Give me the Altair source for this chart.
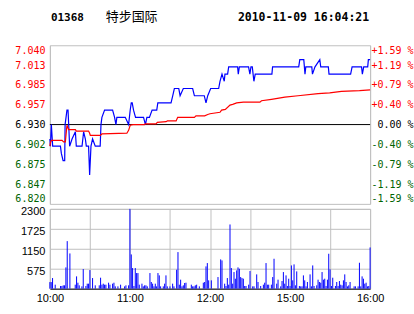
import json
import altair as alt
import pandas as pd

PREV_CLOSE = 6.93

# Price (blue) breakpoints: minutes of trading since 10:00, price
price_t = [0, 0.4, 1.1, 2.1, 7.9, 8.6, 9.9, 11.1, 11.4, 12.1, 12.8, 13.6, 14.1, 14.8, 16.6,
           19.1, 19.8, 24.1, 25.3, 26.6, 27.3, 29.0, 29.8, 30.8, 32.0, 34.0, 37.7, 38.3, 39.0,
           41.0, 47.0, 48.5, 49.5, 50.2, 56.5, 59.0, 60.2, 61.0, 61.7, 62.7, 64.2, 70.2, 71.6,
           72.7, 74.6, 76.6, 80.1, 80.9, 90.8, 92.1, 93.3, 96.6, 97.6, 100, 107, 108.3, 115.7,
           117, 118.3, 120.5, 126.5, 127.5, 129, 130.7, 131.2, 133.2, 134, 140.7, 141.2, 142,
           148.9, 149.9, 150.7, 151.7, 152.9, 153.9, 166.4, 166.9, 186.5, 187.3, 190.3, 191.2,
           191.8, 196.3, 196.8, 198.7, 202.3, 203, 208.7, 209.2, 225.4, 226.5, 233.6, 234.2,
           235.2, 238.2, 238.7, 240]
price_v = [6.91, 6.90, 6.93, 6.90, 6.90, 6.89, 6.88, 6.88, 6.93, 6.94, 6.95, 6.95, 6.93, 6.90, 6.91,
           6.92, 6.90, 6.90, 6.92, 6.91, 6.90, 6.90, 6.86, 6.90, 6.91, 6.90, 6.90, 6.93, 6.94,
           6.95, 6.95, 6.94, 6.93, 6.94, 6.94, 6.93, 6.95, 6.96, 6.96, 6.95, 6.94, 6.94, 6.93,
           6.94, 6.94, 6.95, 6.95, 6.96, 6.96, 6.97, 6.98, 6.98, 6.97, 6.98, 6.98, 6.97, 6.97,
           6.96, 6.97, 6.98, 6.98, 6.99, 7.00, 6.99, 7.00, 7.00, 7.01, 7.01, 7.00, 7.01,
           7.01, 7.00, 7.01, 7.01, 6.99, 7.00, 7.00, 7.01, 7.01, 7.02, 7.02, 7.00,
           7.01, 7.01, 7.00, 7.01, 7.02, 7.01, 7.01, 7.00, 7.00, 7.01, 7.01, 7.00,
           7.01, 7.01, 7.02, 7.02]

# Average price (red)
avg_t = [0, 0.4, 1.1, 9.1, 10.3, 11.6, 12.8, 14.1, 19.1, 19.8, 29.0, 29.8, 30.3, 37.8, 39.0,
         57.7, 59.0, 60.2, 62.3, 70.9, 71.5, 79.6, 80.5, 87.1, 88.0, 94.6, 95.8, 108.3, 109.5,
         116.0, 118.3, 120.0, 127.5, 128.7, 131.5, 135.0, 137.0, 140.0, 145.0, 157.4, 158.6,
         166.1, 176.1, 186.0, 201.0, 209.7, 218.5, 232.1, 240.0]
avg_v = [6.900, 6.905, 6.908, 6.908, 6.906, 6.906, 6.929, 6.923, 6.923, 6.921, 6.921, 6.918,
         6.915, 6.915, 6.917, 6.918, 6.922, 6.929, 6.930, 6.930, 6.931, 6.931, 6.933, 6.934,
         6.935, 6.935, 6.940, 6.940, 6.942, 6.942, 6.944, 6.945, 6.947, 6.950, 6.951, 6.957,
         6.958, 6.960, 6.961, 6.961, 6.963, 6.965, 6.968, 6.970, 6.973, 6.974, 6.976, 6.977,
         6.978]

# Volume per minute
vol_t = [0, 1, 2, 4, 8, 9, 10, 11, 12, 13, 15, 19, 20, 21, 22, 24, 25, 27, 28, 29, 30, 32, 34,
         37, 38, 39, 40, 41, 42, 44, 45, 47, 48, 49, 51, 53, 56, 57, 59, 60, 61, 62, 63, 64, 65,
         66, 67, 69, 70, 71, 72, 73, 75, 76, 77, 78, 79, 80, 81, 82, 83, 85, 86, 87, 88, 90, 92,
         93, 95, 96, 97, 98, 99, 100, 101, 102, 106, 107, 108, 109, 110, 112, 115, 116, 117,
         118, 119, 121, 126, 128, 129, 131, 132, 133, 134, 135, 136, 137, 138, 139, 140, 141,
         142, 143, 144, 145, 146, 147, 149, 150, 152, 153, 155, 156, 158, 160, 161, 162, 163,
         164, 166, 167, 168, 170, 171, 173, 174, 175, 176, 177, 178, 179, 180, 181, 182, 183,
         184, 185, 187, 188, 189, 190, 191, 192, 193, 195, 196, 197, 198, 200, 201, 202, 203,
         204, 205, 206, 207, 208, 209, 210, 211, 212, 214, 215, 216, 217, 218, 219, 220, 221,
         222, 223, 224, 225, 228, 229, 231, 232, 233, 234, 235, 236, 237, 238, 239, 240]
vol_v = [190, 190, 306, 115, 77, 77, 96, 96, 613, 1370, 1015, 115, 354, 172, 96, 67, 565, 77,
         144, 144, 536, 306, 96, 96, 316, 115, 144, 115, 115, 172, 115, 144, 172, 67, 67, 115,
         67, 96, 96, 2300, 987, 594, 77, 594, 450, 450, 115, 144, 67, 96, 96, 67, 450, 192, 144,
         67, 144, 67, 450, 383, 67, 67, 144, 383, 67, 67, 144, 67, 546, 1054, 115, 259, 67, 96,
         163, 172, 115, 67, 67, 96, 115, 67, 172, 192, 642, 738, 240, 240, 335, 843, 814, 144,
         77, 306, 115, 1850, 594, 144, 479, 287, 527, 613, 575, 335, 306, 287, 77, 77, 115, 508,
         67, 67, 412, 192, 77, 115, 172, 738, 115, 115, 115, 335, 862, 144, 259, 67, 220, 479,
         144, 383, 77, 287, 77, 670, 240, 700, 96, 498, 77, 67, 67, 383, 240, 67, 192, 412, 67,
         670, 77, 96, 259, 192, 172, 479, 259, 287, 77, 259, 1006, 556, 77, 316, 77, 192, 77,
         220, 115, 96, 240, 412, 192, 67, 96, 192, 67, 67, 67, 747, 67, 354, 287, 144, 172, 67,
         77, 1188]

price_ticks = [6.82, 6.8475, 6.875, 6.9025, 6.93, 6.9575, 6.985, 7.0125, 7.04]
price_labels = ["6.820", "6.847", "6.875", "6.902", "6.930", "6.957", "6.985", "7.013", "7.040"]
pct_labels = ["-1.59 %", "-1.19 %", "-0.79 %", "-0.40 %", "0.00 %",
              "+0.40 %", "+0.79 %", "+1.19 %", "+1.59 %"]
vol_ticks = [575, 1150, 1725, 2300]
time_ticks = [0, 30, 60, 90, 120, 150, 180, 210, 240]
time_labels = ["10:00", "", "11:00", "", "12:00", "", "15:00", "", "16:00"]

code = "01368"
name = "特步国际"
stamp = "2010-11-09 16:04:21"

GRID = "#c0c0c0"
RED = "#ff0000"
GREEN = "#006400"
MONO = "DejaVu Sans Mono"
SANS = "Liberation Sans"

price_df = pd.DataFrame({"t": price_t, "p": price_v})
avg_df = pd.DataFrame({"t": avg_t, "p": avg_v})
vol_df = pd.DataFrame({"t": vol_t, "v": vol_v})
prev_df = pd.DataFrame({"p": [PREV_CLOSE]})

idx = "round((datum.value-6.82)/0.0275)"
color_cond = {"condition": [{"test": "datum.value > 6.931", "value": RED},
                            {"test": "datum.value < 6.929", "value": GREEN}],
              "value": "#000000"}

xscale = alt.Scale(domain=[0, 240], nice=False, zero=False)
yscale = alt.Scale(domain=[6.82, 7.04], nice=False, zero=False)

x_price = alt.X("t:Q", scale=xscale,
                axis=alt.Axis(values=time_ticks, labels=False, ticks=False, title=None,
                              domainColor="#000000", gridColor=GRID))

prev_rule = alt.Chart(prev_df).mark_rule(color="#000000", strokeWidth=1).encode(
    y=alt.Y("p:Q", scale=yscale, axis=None)
)

blue = alt.Chart(price_df).mark_line(color="#0000ff", strokeWidth=1.2).encode(
    x=x_price,
    y=alt.Y("p:Q", scale=yscale,
            axis=alt.Axis(values=price_ticks, title=None, ticks=False, labelPadding=5,
                          labelExpr=json.dumps(price_labels) + "[" + idx + "]",
                          labelFont=MONO, labelFontSize=10, labelColor=color_cond,
                          labelFlush=True, domainColor=GRID, gridColor=GRID))
)

red = alt.Chart(avg_df).mark_line(color=RED, strokeWidth=1.2).encode(
    x=alt.X("t:Q", scale=xscale, axis=None),
    y=alt.Y("p:Q", scale=yscale,
            axis=alt.Axis(orient="right", values=price_ticks, title=None, ticks=False,
                          grid=False, labelPadding=43, labelAlign="right",
                          labelExpr=json.dumps(pct_labels) + "[" + idx + "]",
                          labelFont=MONO, labelFontSize=10, labelColor=color_cond,
                          labelFlush=True, domainColor=GRID))
)

# invisible anchor pinning the top-left corner of the canvas
anchor = alt.Chart(prev_df).mark_text(text=".", fontSize=4, opacity=0, align="left",
                                      baseline="top").encode(
    x=alt.value(-49), y=alt.value(-44))

t_code = alt.Chart(prev_df).mark_text(text=code, font=MONO, fontSize=11, fontWeight="bold",
                                      align="left", baseline="middle").encode(
    x=alt.value(1), y=alt.value(-27))
t_name = alt.Chart(prev_df).mark_text(text=name, font="Noto Sans CJK SC", fontSize=13,
                                      align="left", baseline="middle").encode(
    x=alt.value(56), y=alt.value(-28))
t_stamp = alt.Chart(prev_df).mark_text(text=stamp, font=MONO, fontSize=11.5, fontWeight="bold",
                                       align="right", baseline="middle").encode(
    x=alt.value(320), y=alt.value(-27))

price_panel = alt.layer(prev_rule, blue, red, anchor, t_code, t_name, t_stamp).resolve_axis(
    y="independent").properties(width=321, height=159)

volume_panel = alt.Chart(vol_df).mark_rule(color="#0000ff", strokeWidth=1).encode(
    x=alt.X("t:Q", scale=xscale,
            axis=alt.Axis(values=time_ticks, title=None, ticks=False, labelPadding=4,
                          labelExpr=json.dumps(time_labels) + "[round(datum.value/30)]",
                          labelFont=SANS, labelFontSize=11, labelColor="#000000",
                          labelFlush=False, domainColor="#000000", gridColor=GRID)),
    y=alt.Y("v:Q", scale=alt.Scale(domain=[0, 2300], nice=False),
            axis=alt.Axis(values=vol_ticks, title=None, ticks=False, labelPadding=5,
                          format="d", labelFont=SANS, labelFontSize=11, labelColor="#000000",
                          labelOffset=3, domainColor=GRID, gridColor=GRID)),
    y2=alt.datum(0),
).properties(width=321, height=80)

chart = alt.vconcat(price_panel, volume_panel, spacing=5, bounds="flush").properties(
    padding={"left": 0, "top": 0, "right": 0, "bottom": 0},
    background="#ffffff",
).configure_view(stroke=GRID, strokeWidth=1)

chart.save("out.html", embed_options={"renderer": "svg", "actions": False})
